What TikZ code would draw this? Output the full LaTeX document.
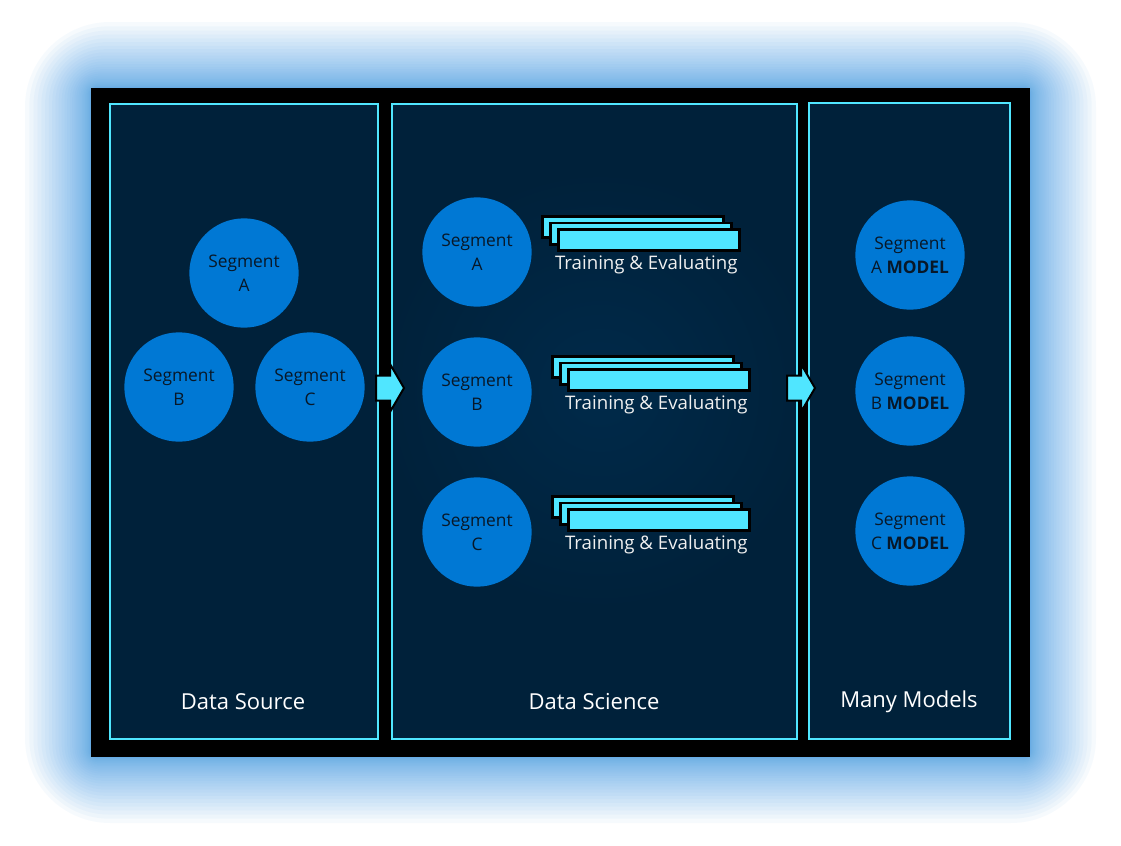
\documentclass[tikz,border=0pt]{standalone}
\usepackage{fontspec}
\setmainfont{Open Sans}
\usetikzlibrary{positioning}

\definecolor{navy}{RGB}{0,33,58}
\definecolor{segblue}{RGB}{0,120,212}
\definecolor{cyanline}{RGB}{80,230,255}
\definecolor{glowblue}{RGB}{55,150,228}
\definecolor{inktext}{RGB}{8,24,40}
\definecolor{centerglow}{RGB}{0,42,74}

\tikzset{
  panel/.style={draw=cyanline, fill=navy, line width=0.8pt},
  segment/.style={circle, fill=segblue, minimum size=82pt, inner sep=0pt,
    align=center, text=inktext, font=\fontsize{13}{18}\selectfont},
  card/.style={draw=black, fill=cyanline, line width=2pt,
    minimum width=136pt, minimum height=16pt, inner sep=0pt},
  cardlabel/.style={text=white!88!gray, inner sep=1pt, font=\fontsize{14}{16}\selectfont},
  paneltitle/.style={text=white, font=\fontsize{16.5}{19}\selectfont},
  arrowfill/.style={draw=black, fill=cyanline, line width=1.5pt, line join=miter},
  pics/flowarrow/.style={code={
    \draw[arrowfill] (0,-12.5) -- (14,-12.5) -- (14,-24) -- (28,0)
      -- (14,24) -- (14,12.5) -- (0,12.5) -- cycle;}}
}

\begin{document}
\begin{tikzpicture}[x=0.75pt, y=-0.75pt]
  \useasboundingbox (0,0) rectangle (1121,846);
  \fill[white] (0,0) rectangle (1121,846);

  % blue glow round the frame
  \foreach \i [evaluate=\i as \d using 66*(\i/30)^2,
               evaluate=\i as \r using 0.75*(6+1.2*\d)] in {1,...,30}
    \fill[glowblue, fill opacity=0.045, rounded corners=\r pt]
      (91-\d, 88-\d) rectangle (1030+\d, 757+\d);
  \fill[black] (91,88) rectangle (1030,757);

  % panels
  \draw[panel] (110,104) rectangle (378,739);
  \draw[panel] (392,104) rectangle (797,739);
  \begin{scope}
    \clip (392.5,104.5) rectangle (796.5,738.5);
    \shade[inner color=centerglow, outer color=navy] (600,390) circle (220);
  \end{scope}
  \draw[cyanline, line width=0.8pt] (392,104) rectangle (797,739);
  \draw[panel, line width=1.6pt] (809,103) rectangle (1010,739);

  % data source
  \node[segment] (srcA) at (244,273) {Segment\\A};
  \node[segment] (srcB) at (179,387) {Segment\\B};
  \node[segment] (srcC) at (310,387) {Segment\\C};
  \node[paneltitle] (titleSource) at (243,702) {Data Source};

  % data science
  \node[segment] (sciA) at (477,252) {Segment\\A};
  \node[segment] (sciB) at (477,392) {Segment\\B};
  \node[segment] (sciC) at (477,532) {Segment\\C};
  \foreach \g/\cx/\cy in {A/649/240, B/659/380, C/659/520} {
    \node[card] at (\cx-16,\cy-13) {};
    \node[card] at (\cx-8,\cy-6.5) {};
    \node[card] (card\g) at (\cx,\cy) {};
    \node[cardlabel, below=1.5pt of card\g, xshift=-2pt] (train\g) {Training \& Evaluating};
  }
  \node[paneltitle] (titleScience) at (594,702) {Data Science};

  % many models
  \node[segment] (modA) at (910,255) {Segment\\A \textbf{MODEL}};
  \node[segment] (modB) at (910,391) {Segment\\B \textbf{MODEL}};
  \node[segment] (modC) at (910,531) {Segment\\C \textbf{MODEL}};
  \node[paneltitle] (titleModels) at (909,702) {Many Models};

  % flow arrows
  \pic at (376,388) {flowarrow};
  \pic at (787,388) {flowarrow};
\end{tikzpicture}
\end{document}
